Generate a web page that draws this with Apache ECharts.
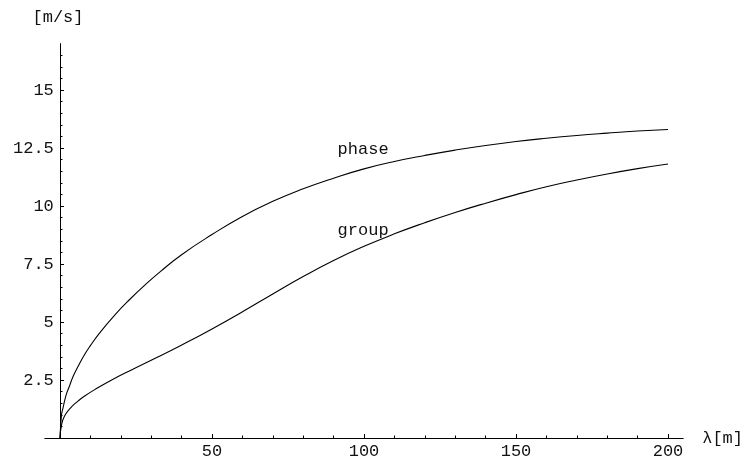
<!DOCTYPE html>
<html>
<head>
<meta charset="utf-8">
<script src="https://cdn.jsdelivr.net/npm/echarts@6/dist/echarts.min.js"></script>
<style>
  html, body { margin: 0; padding: 0; background: #fff; }
  #chart { width: 745px; height: 459px; }
</style>
</head>
<body>
<div id="chart"></div>
<script>
// wavelength [m] -> speed [m/s]
const phase = [
  [0, 0], [0.5, 1.0], [1, 1.3], [2, 1.85], [3, 2.2], [4.3, 2.65], [6, 3.1],
  [8, 3.58], [10, 3.98], [13, 4.52], [18, 5.3], [23, 5.98], [28, 6.6],
  [33, 7.17], [40, 7.9], [50, 8.77], [60, 9.55], [70, 10.2], [80, 10.74],
  [90, 11.2], [100, 11.6], [110, 11.92], [120, 12.18], [130, 12.41],
  [140, 12.61], [150, 12.78], [160, 12.92], [170, 13.04], [180, 13.14],
  [190, 13.23], [200, 13.3]
]
const group = [
  [0, 0], [0.5, 0.55], [1.5, 0.95], [3.5, 1.3], [6, 1.6], [8, 1.8],
  [12, 2.13], [17, 2.5], [23, 2.9], [30, 3.35], [37, 3.8], [44, 4.28],
  [50, 4.7], [60, 5.44], [70, 6.21], [80, 6.96], [90, 7.65], [100, 8.26],
  [110, 8.8], [120, 9.28], [130, 9.72], [140, 10.12], [150, 10.49],
  [160, 10.83], [170, 11.12], [180, 11.38], [190, 11.61], [200, 11.81]
]
const xMajor = [50, 100, 150, 200]
const xMinor = [10, 20, 30, 40, 60, 70, 80, 90, 110, 120, 130, 140, 160, 170, 180, 190]
const yMajor = [2.5, 5, 7.5, 10, 12.5, 15]
const yMinor = [0.5, 1, 1.5, 2, 3, 3.5, 4, 4.5, 5.5, 6, 6.5, 7, 8, 8.5, 9, 9.5,
  10.5, 11, 11.5, 12, 13, 13.5, 14, 14.5, 15.5, 16, 16.5]

const font = { fontFamily: '"Liberation Mono", monospace', fontSize: 17, color: '#111' }
const black = { color: '#000', width: 1 }

const chart = echarts.init(document.getElementById('chart'))

function curveLabel(text, at) {
  return {
    symbol: 'circle', symbolSize: 1,
    itemStyle: { color: 'rgba(0,0,0,0)' },
    label: Object.assign({ show: true, formatter: text, position: 'inside' }, font),
    data: [{ coord: at }]
  }
}

chart.setOption({
  animation: false,
  backgroundColor: '#fff',
  textStyle: font,
  grid: { left: 44.8, right: 61.8, top: 43.6, bottom: 21, containLabel: false, outerBoundsMode: 'none' },
  xAxis: [{
    type: 'value', min: -5, max: 205,
    name: 'λ[m]', nameLocation: 'end', nameGap: 19,
    nameTextStyle: Object.assign({ align: 'left', verticalAlign: 'middle' }, font),
    axisLine: { onZero: true, lineStyle: black },
    axisTick: { inside: true, length: 4, customValues: xMajor, lineStyle: black },
    axisLabel: Object.assign({ customValues: xMajor, margin: 5 }, font),
    splitLine: { show: false }
  }, {
    type: 'value', min: -5, max: 205, position: 'bottom',
    axisLine: { show: false },
    axisTick: { inside: true, length: 2.5, customValues: xMinor, lineStyle: black },
    axisLabel: { show: false },
    splitLine: { show: false }
  }],
  yAxis: [{
    type: 'value', min: 0, max: 17,
    name: '[m/s]', nameLocation: 'end', nameGap: 26,
    nameTextStyle: Object.assign({ align: 'center', verticalAlign: 'middle', padding: [0, 4, 0, 0] }, font),
    axisLine: { onZero: true, lineStyle: black },
    axisTick: { inside: true, length: 4, customValues: yMajor, lineStyle: black },
    axisLabel: Object.assign({ customValues: yMajor, margin: -9 }, font),
    splitLine: { show: false }
  }, {
    type: 'value', min: 0, max: 17, position: 'left',
    axisLine: { show: false },
    axisTick: { inside: true, length: 2.5, customValues: yMinor, lineStyle: black },
    axisLabel: { show: false },
    splitLine: { show: false }
  }],
  series: [{
    name: 'phase', type: 'line', xAxisIndex: 0, yAxisIndex: 0,
    data: phase, showSymbol: false, smooth: true,
    lineStyle: { color: '#000', width: 1.1 },
    markPoint: curveLabel('phase', [99.7, 12.45])
  }, {
    name: 'group', type: 'line', xAxisIndex: 0, yAxisIndex: 0,
    data: group, showSymbol: false, smooth: true,
    lineStyle: { color: '#000', width: 1.1 },
    markPoint: curveLabel('group', [99.7, 8.95])
  }]
})
</script>
</body>
</html>
